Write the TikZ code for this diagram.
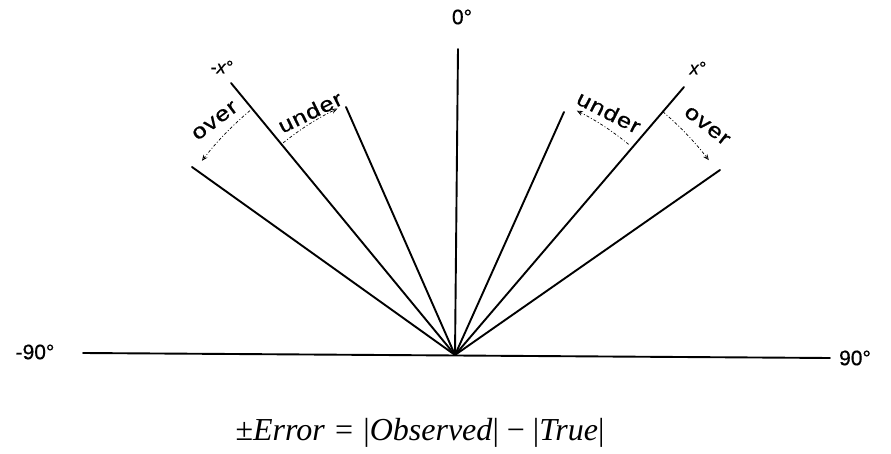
\documentclass[tikz,border=0pt]{standalone}
\usepackage{fontspec}
\setmainfont{Liberation Serif}
\newfontfamily\lblfont[FakeBold=0.6]{Liberation Sans}
\newfontfamily\arclblfont[LetterSpace=4,FakeBold=0.6]{Liberation Sans}
\usetikzlibrary{arrows.meta}
\begin{document}
\begin{tikzpicture}[x=1pt,y=1pt,
  ray/.style={line width=1.9pt, line cap=round},
  arcdash/.style={line width=0.7pt, dash pattern=on 3pt off 2pt on 1pt off 2pt, -{Stealth[open,length=6pt,width=5pt]}},
  lbl/.style={font=\lblfont\fontsize{21}{24}\selectfont, inner sep=0pt},
  arclbl/.style={font=\arclblfont\fontsize{21}{24}\selectfont, inner sep=0pt},
  degl/.style={font=\lblfont\fontsize{18}{21}\selectfont, inner sep=0pt}]
\useasboundingbox (-455,-98) rectangle (436,355);
\coordinate (O) at (0,0);
\coordinate (hl) at (-372,2);
\coordinate (hr) at (375,-3);
\coordinate (v) at (3,306);
\coordinate (nx) at (-224,272);
\coordinate (li) at (-109,248);
\coordinate (lo) at (-263,188);
\coordinate (px) at (229,268);
\coordinate (ri) at (109,243);
\coordinate (ro) at (265,185);
\draw[ray] (hl) -- (hr);
\foreach \e in {v,nx,li,lo,px,ri,ro} \draw[ray] (O) -- (\e);
% arcs
\draw[arcdash] (130:319) arc[start angle=130, end angle=142.5, radius=319];
\draw[arcdash] (129:273) arc[start angle=129, end angle=115.5, radius=273];
\draw[arcdash] (50.5:273) arc[start angle=50.5, end angle=63.5, radius=273];
\draw[arcdash] (49.5:320) arc[start angle=49.5, end angle=37.5, radius=320];
% labels
\node[arclbl, rotate=37, xscale=1.2] (lover) at (-240,234) {over};
\node[arclbl, rotate=26, xscale=1.2] (lunder) at (-145,243) {under};
\node[arclbl, rotate=-27, xscale=1.2] (runder) at (154,243) {under};
\node[arclbl, rotate=-38, xscale=1.2] (rover) at (252,229) {over};
\node[lbl] (zero) at (7,338) {0°};
\node[lbl] (m90) at (-420,3) {-90°};
\node[lbl] (p90) at (400,-3) {90°};
\node[degl] (mx) at (-233,288) {-\textit{x}°};
\node[degl] (xx) at (243,287) {\textit{x}°};
\node[inner sep=0pt, font=\fontsize{32}{36}\selectfont] (formula) at (-35,-78)
  {±\textit{Error}\hspace{0.32em}=\hspace{0.32em}|\textit{Observed}|\hspace{0.25em}−\hspace{0.25em}|\textit{True}|};
\end{tikzpicture}
\end{document}
